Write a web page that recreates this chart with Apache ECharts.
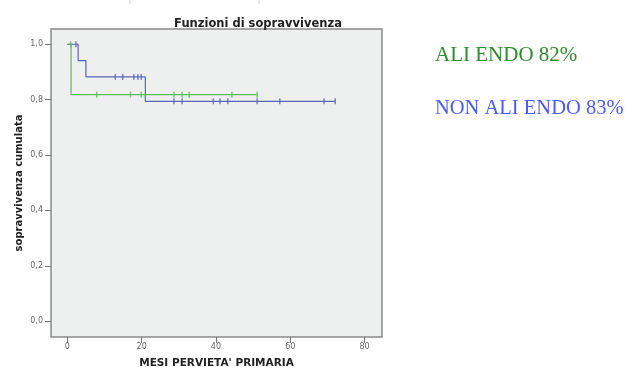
<!DOCTYPE html>
<html><head><meta charset="utf-8">
<script src="https://cdn.jsdelivr.net/npm/echarts@6/dist/echarts.min.js"></script>
<style>html,body{margin:0;padding:0;background:#fff}#c{width:628px;height:367px}</style>
</head><body><div id="c"></div>
<script>
// Kaplan-Meier: ALI ENDO (green)
const aliEventTimes = [0, 1, 51];
const aliSurv = [1.0, 0.818, 0.818];
const aliCensorTimes = [0.9, 7.9, 17.0, 19.9, 28.7, 30.9, 32.8, 44.3, 51.1];
// NON ALI ENDO (blue)
const nonEventTimes = [0, 2.9, 5.0, 21.0, 72.1];
const nonSurv = [1.0, 0.941, 0.882, 0.794, 0.794];
const nonCensorTimes = [2.3, 12.9, 14.9, 17.9, 19.0, 19.9, 28.7, 30.9, 39.3, 41.1, 43.2, 51.1, 57.2, 69.1, 72.1];
const xTicks = [0, 20, 40, 60, 80];
const yTicks = [0, 0.2, 0.4, 0.6, 0.8, 1.0];
const legendTexts = ['ALI ENDO 82%', 'NON ALI ENDO 83%'];

function survAt(times, surv, t) {
  let v = surv[0];
  for (let i = 0; i < times.length; i++) if (times[i] <= t) v = surv[i];
  return v;
}
const pair = (a, b) => a.map((t, i) => [t, b[i]]);
const cens = (ct, times, surv) => ct.map(t => [t, survAt(times, surv, t)]);

const green = '#5cbb5c', blue = '#5a66b4';
const F = '"DejaVu Sans"';
const chart = echarts.init(document.getElementById('c'), null, {renderer: 'canvas'});
chart.setOption({
  animation: false,
  title: {text: 'Funzioni di sopravvivenza', left: 253, top: 13, textAlign: 'center',
    textStyle: {fontFamily: F, fontWeight: 'bold', fontSize: 11.5, color: '#222'}},
  grid: {left: 51, right: 246, top: 29, bottom: 30, show: true, backgroundColor: '#eeefef',
    borderColor: '#8a8a8a', borderWidth: 1.5, containLabel: false, outerBoundsMode: 'none'},
  xAxis: {type: 'value', min: -4.4, max: 84.7,
    name: "MESI PERVIETA' PRIMARIA", nameLocation: 'middle', nameGap: 21,
    nameTextStyle: {fontFamily: F, fontWeight: 'bold', fontSize: 10.5, color: '#222'},
    axisLine: {show: false, onZero: false}, splitLine: {show: false},
    axisTick: {show: true, inside: false, customValues: xTicks, length: 6, lineStyle: {color: '#777'}},
    axisLabel: {customValues: xTicks, margin: 6, fontSize: 8, color: '#666', fontFamily: F}},
  yAxis: {type: 'value', min: -0.057, max: 1.055,
    name: 'sopravvivenza cumulata', nameLocation: 'middle', nameGap: 27, nameMoveOverlap: false,
    nameTextStyle: {fontFamily: F, fontWeight: 'bold', fontSize: 10, color: '#222'},
    axisLine: {show: false, onZero: false}, splitLine: {show: false},
    axisTick: {show: true, inside: false, customValues: yTicks, length: 6, lineStyle: {color: '#777'}},
    axisLabel: {customValues: yTicks, margin: 8, fontSize: 8, color: '#666', fontFamily: F,
      formatter: v => v.toFixed(1).replace('.', ',')}},
  series: [
    {type: 'line', step: 'end', data: pair(aliEventTimes, aliSurv), showSymbol: false,
      lineStyle: {color: green, width: 1.2}, z: 3},
    {type: 'line', step: 'end', data: pair(nonEventTimes, nonSurv), showSymbol: false,
      lineStyle: {color: blue, width: 1.2}, z: 2},
    {type: 'scatter', data: cens(aliCensorTimes, aliEventTimes, aliSurv), symbol: 'rect',
      symbolSize: [1.5, 6], itemStyle: {color: green}, z: 4},
    {type: 'scatter', data: cens(nonCensorTimes, nonEventTimes, nonSurv), symbol: 'rect',
      symbolSize: [1.5, 6], itemStyle: {color: blue}, z: 4}
  ],
  graphic: [
    {type: 'text', left: 435, top: 45, style: {text: legendTexts[0], fill: '#2e8b2e',
      font: '21px "Liberation Serif"'}},
    {type: 'text', left: 435, top: 98, style: {text: legendTexts[1], fill: '#4a5cf6',
      font: '20.5px "Liberation Serif"'}},
    {type: 'line', shape: {x1: 130, y1: 0, x2: 130, y2: 4}, style: {stroke: '#ccc', lineWidth: 1}},
    {type: 'line', shape: {x1: 259, y1: 0, x2: 259, y2: 4}, style: {stroke: '#ccc', lineWidth: 1}}
  ]
});
</script></body></html>
